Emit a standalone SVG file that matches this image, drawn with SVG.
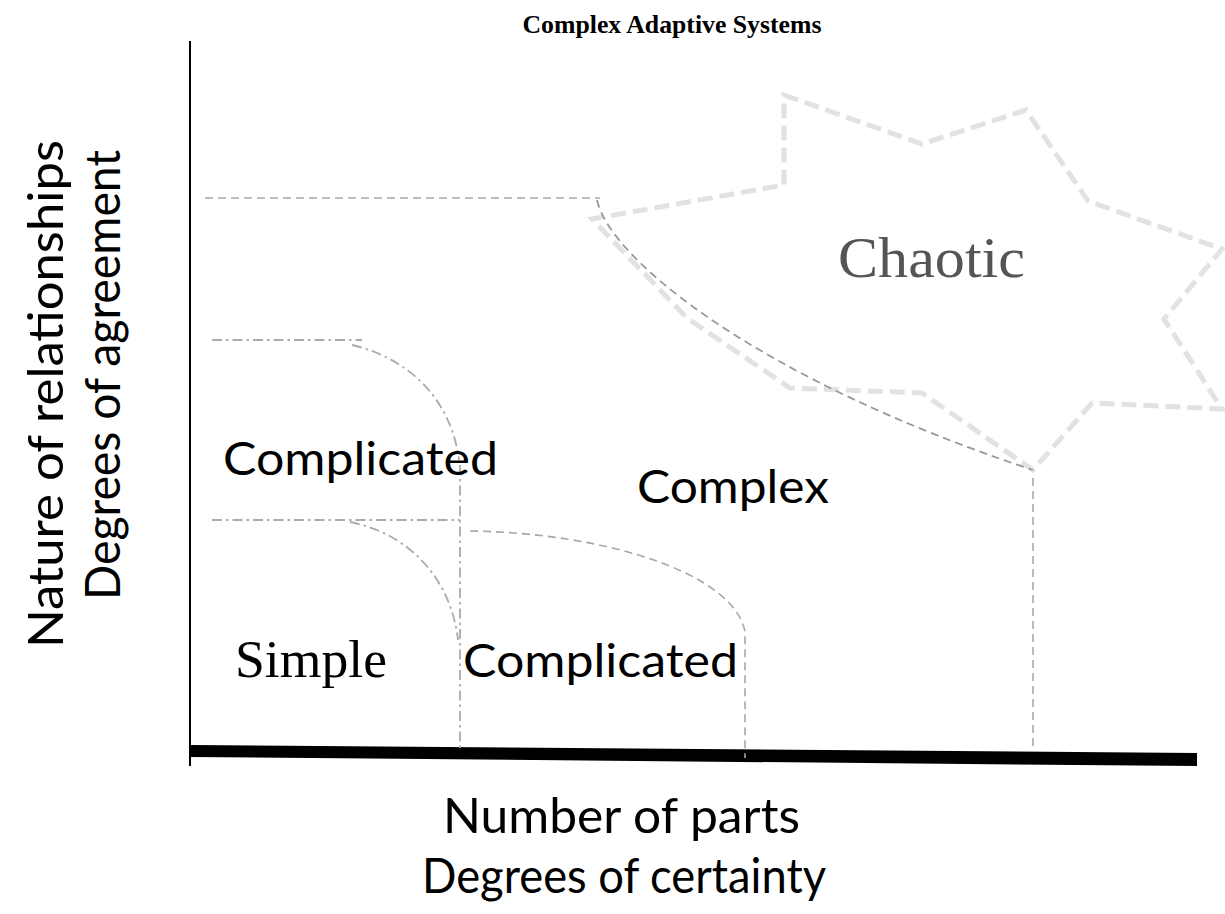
<svg xmlns="http://www.w3.org/2000/svg" width="1225" height="914" viewBox="0 0 1225 914">
<style>
.sans{font-family:Lato,"Open Sans","Liberation Sans",sans-serif;fill:#000}
.serif{font-family:"Liberation Serif","DejaVu Serif",serif}
.dash{fill:none;stroke:#a8a8a8;stroke-width:1.6;stroke-dasharray:8 5}
.dark{fill:none;stroke:#999;stroke-width:1.8;stroke-dasharray:8 5}
.dashdot{fill:none;stroke:#ababab;stroke-width:1.8;stroke-dasharray:10 4 2.5 4}
.star{fill:none;stroke:#e2e2e2;stroke-width:5;stroke-dasharray:15 7;stroke-linejoin:miter}
</style>
<rect width="1225" height="914" fill="#fff"/>
<g id="title"><text x="672" y="33" class="serif" font-size="26" font-weight="bold" text-anchor="middle" textLength="299" lengthAdjust="spacingAndGlyphs">Complex Adaptive Systems</text></g>
<g id="axes">
<line x1="190" y1="41" x2="190" y2="766" stroke="#000" stroke-width="2"/>
<polygon points="190,745 1197,753 1197,766 190,757" fill="#000"/>
</g>
<g id="chaotic-star">
<polygon class="star" points="784,95 922,144 1026,110 1088,201 1222,249 1164,319 1222,409 1092,403 1033,470 922,393 790,388 687,318 592,219 784,185"/>
</g>
<g id="boundaries">
<path class="dash" d="M205,198 H600"/>
<path class="dark" d="M597,200 C610,260 760,380 1033,470"/>
<path class="dash" d="M1033,478 V750"/>
<path class="dashdot" d="M212,340 H362"/>
<path class="dashdot" d="M352,345 C415,360 452,405 459,460"/>
<path class="dashdot" d="M460,465 V748"/>
<path class="dashdot" d="M212,520 H460"/>
<path class="dashdot" d="M350,522 C415,535 452,585 458,640"/>
<path class="dash" d="M470,531 C610,533 735,575 745,632 V758"/>
</g>
<g id="label-chaotic"><text x="838" y="277" class="serif" font-size="58" fill="#555" textLength="187" lengthAdjust="spacingAndGlyphs">Chaotic</text></g>
<g id="label-complicated-upper"><text x="223" y="475" class="sans" font-size="46" textLength="275" lengthAdjust="spacingAndGlyphs">Complicated</text></g>
<g id="label-complex"><text x="637" y="503" class="sans" font-size="46" textLength="192" lengthAdjust="spacingAndGlyphs">Complex</text></g>
<g id="label-simple"><text x="235" y="677" class="serif" font-size="52" textLength="152" lengthAdjust="spacingAndGlyphs">Simple</text></g>
<g id="label-complicated-lower"><text x="463" y="677" class="sans" font-size="46" textLength="275" lengthAdjust="spacingAndGlyphs">Complicated</text></g>
<g id="y-axis-label">
<text transform="translate(63,648) rotate(-90)" class="sans" font-size="48" textLength="508" lengthAdjust="spacingAndGlyphs">Nature of relationships</text>
<text transform="translate(120,600) rotate(-90)" class="sans" font-size="48" textLength="450" lengthAdjust="spacingAndGlyphs">Degrees of agreement</text>
</g>
<g id="x-axis-label">
<text x="443" y="833" class="sans" font-size="48" textLength="357" lengthAdjust="spacingAndGlyphs">Number of parts</text>
<text x="422" y="893" class="sans" font-size="48" textLength="404" lengthAdjust="spacingAndGlyphs">Degrees of certainty</text>
</g>
</svg>
